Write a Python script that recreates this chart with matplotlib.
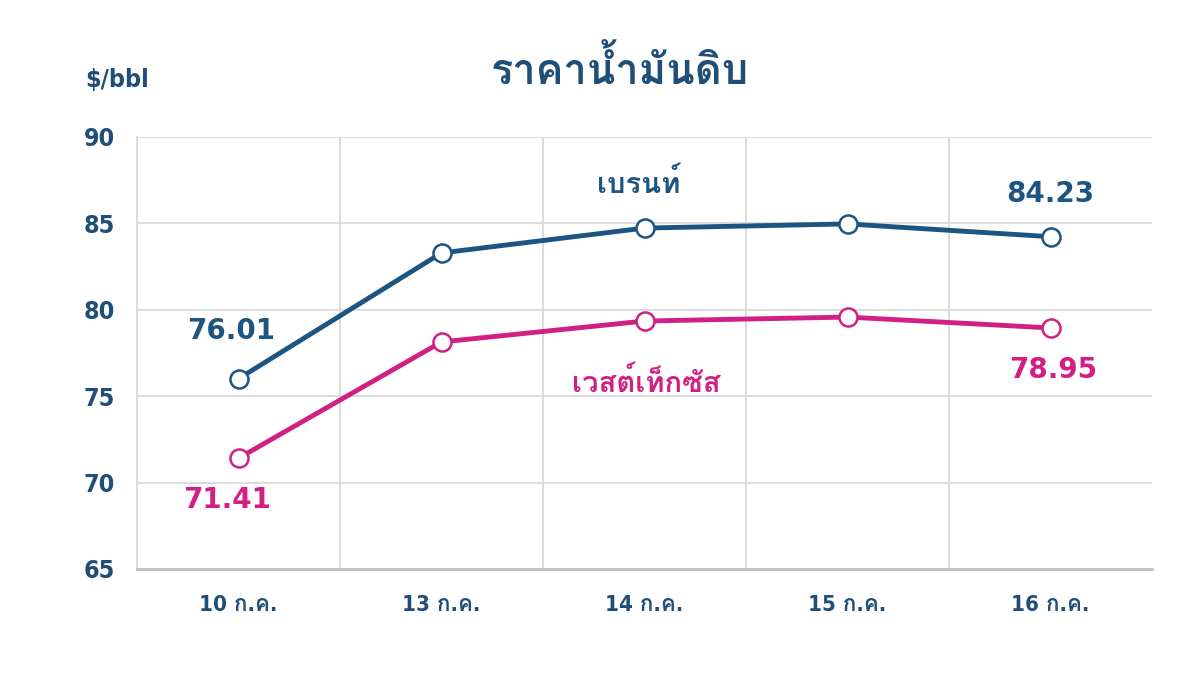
import matplotlib
matplotlib.use("Agg")
import matplotlib.pyplot as plt
from matplotlib import font_manager
from matplotlib.ft2font import FT2Font

# find an installed family that has Thai glyphs
thai = None
for f in font_manager.fontManager.ttflist:
    try:
        if ord('ร') in FT2Font(f.fname).get_charmap():
            thai = f.name
            break
    except Exception:
        pass
fams = ['DejaVu Sans'] + ([thai] if thai else [])
plt.rcParams['font.family'] = fams

dates = ['10 ก.ค.', '13 ก.ค.', '14 ก.ค.', '15 ก.ค.', '16 ก.ค.']
brent = [76.01, 83.29, 84.73, 84.97, 84.23]
wti = [71.41, 78.14, 79.35, 79.58, 78.95]

blue = '#1c5482'
pink = '#d11f84'
navy = '#1f4e79'

fig = plt.figure(figsize=(12, 6.74), dpi=100)
ax = fig.add_axes([137/1200, 1-569/674, 1015/1200, 432/674])

x = list(range(len(dates)))
ax.plot(x, brent, color=blue, lw=3.5, marker='o', ms=13, mfc='white', mec=blue, mew=1.8, zorder=3)
ax.plot(x, wti, color=pink, lw=3.5, marker='o', ms=13, mfc='white', mec=pink, mew=1.8, zorder=3)

ax.set_xlim(-0.5, 4.5)
ax.set_ylim(65, 90)
ax.set_yticks([65, 70, 75, 80, 85, 90])
ax.set_xticks([0.5, 1.5, 2.5, 3.5], minor=False)
ax.set_xticklabels([])
ax.set_xticks(x, minor=True)
ax.set_xticklabels(dates, minor=True)
ax.grid(True, which='major', color='#d9d9d9', lw=1.3)
ax.tick_params(which='both', length=0)
ax.tick_params(axis='y', labelsize=18, labelcolor=navy, pad=16)
ax.tick_params(axis='x', which='minor', labelsize=16, labelcolor=navy, pad=19)
for lab in ax.get_yticklabels() + ax.get_xticklabels(minor=True):
    lab.set_fontweight('bold')
    lab.set_fontstretch('condensed')

for s in ['top', 'right']:
    ax.spines[s].set_visible(False)
ax.spines['left'].set_color('#d9d9d9')
ax.spines['left'].set_linewidth(1.3)
ax.spines['bottom'].set_color('#bfbfbf')
ax.spines['bottom'].set_linewidth(2)

num = dict(ha='center', fontsize=20, fontweight='bold', textcoords='offset points')
ax.annotate(f'{brent[0]:.2f}', (x[0], brent[0]), xytext=(-5, 24), va='bottom', color=blue, **num)
ax.annotate(f'{brent[-1]:.2f}', (x[-1], brent[-1]), xytext=(0, 21), va='bottom', color=blue, **num)
ax.annotate(f'{wti[0]:.2f}', (x[0], wti[0]), xytext=(-8, -20), va='top', color=pink, **num)
ax.annotate(f'{wti[-1]:.2f}', (x[-1], wti[-1]), xytext=(2, -20), va='top', color=pink, **num)

ax.text(1.97, 87.3, 'เบรนท์', ha='center', va='center', fontsize=21, fontweight='bold', color=blue)
ax.text(2.01, 75.8, 'เวสต์เท็กซัส', ha='center', va='center', fontsize=21, fontweight='bold', color=pink)

fig.text(0.517, 0.895, 'ราคาน้ำมันดิบ', ha='center', va='center', fontsize=30, fontweight='bold', color=navy)
fig.text(0.071, 0.881, '$/bbl', ha='left', va='center', fontsize=18, fontweight='bold',
         fontstretch='condensed', color=navy)

fig.savefig('out.png', dpi=100)
